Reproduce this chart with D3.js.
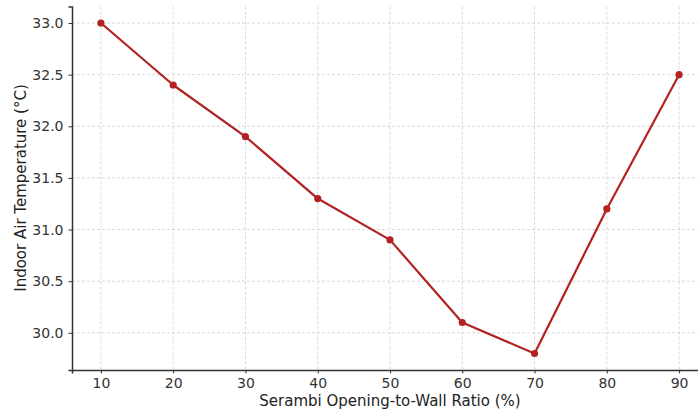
<!DOCTYPE html>
<html lang="en">
<head>
<meta charset="utf-8">
<script src="https://d3js.org/d3.v7.min.js"></script>
<style>
  body { margin: 0; background: #fff; }
  svg { display: block; font-family: "DejaVu Sans", sans-serif; }
</style>
</head>
<body>
<svg width="698" height="414"></svg>
<script>
// chart data
var ratios = [10, 20, 30, 40, 50, 60, 70, 80, 90];
var temps = [33.0, 32.4, 31.9, 31.3, 30.9, 30.1, 29.8, 31.2, 32.5];
var xTicks = [10, 20, 30, 40, 50, 60, 70, 80, 90];
var yTicks = [30.0, 30.5, 31.0, 31.5, 32.0, 32.5, 33.0];

var svg = d3.select("svg");
var padL = 72, padR = 708, padT = 6.5, padB = 370;

var x = d3.scaleLinear().domain([6, 94]).range([padL, padR]);
var y = d3.scaleLinear().domain([29.64, 33.16]).range([padB, padT]);

// grid
var grid = svg.append("g").attr("stroke", "#d0d0d0").attr("stroke-width", 0.8)
  .attr("stroke-dasharray", "3,2");
grid.selectAll(".gx").data(xTicks).enter().append("line")
  .attr("x1", function(d) { return x(d); }).attr("x2", function(d) { return x(d); })
  .attr("y1", padT).attr("y2", padB);
grid.selectAll(".gy").data(yTicks).enter().append("line")
  .attr("x1", padL).attr("x2", padR)
  .attr("y1", function(d) { return y(d); }).attr("y2", function(d) { return y(d); });

// axes
var xAxis = svg.append("g").attr("transform", "translate(0," + padB + ")")
  .call(d3.axisBottom(x).tickValues(xTicks).tickSize(3.5).tickPadding(5).tickFormat(d3.format("d")));
var yAxis = svg.append("g").attr("transform", "translate(" + padL + ",0)")
  .call(d3.axisLeft(y).tickValues(yTicks).tickSize(3.5).tickPadding(5).tickFormat(d3.format(".1f")));

[xAxis, yAxis].forEach(function(a) {
  a.select(".domain").attr("stroke", "#333").attr("stroke-width", 1.5);
  a.selectAll(".tick line").attr("stroke", "#333");
  a.selectAll("text").attr("fill", "#333").style("font-size", "14px")
    .style("font-family", "DejaVu Sans, sans-serif");
});

// line + markers
var pts = ratios.map(function(r, i) { return [r, temps[i]]; });
svg.append("path").datum(pts)
  .attr("fill", "none").attr("stroke", "#b22222").attr("stroke-width", 2.2)
  .attr("stroke-linejoin", "round")
  .attr("d", d3.line().x(function(d) { return x(d[0]); }).y(function(d) { return y(d[1]); }));
svg.selectAll(".dot").data(pts).enter().append("circle")
  .attr("cx", function(d) { return x(d[0]); }).attr("cy", function(d) { return y(d[1]); })
  .attr("r", 3.6).attr("fill", "#b22222");

// labels
svg.append("text").attr("x", 390).attr("y", 406).attr("text-anchor", "middle")
  .attr("fill", "#222").style("font-size", "15px").text("Serambi Opening-to-Wall Ratio (%)");
svg.append("text").attr("transform", "translate(26,188) rotate(-90)").attr("text-anchor", "middle")
  .attr("fill", "#222").style("font-size", "15px").text("Indoor Air Temperature (°C)");
</script>
</body>
</html>
